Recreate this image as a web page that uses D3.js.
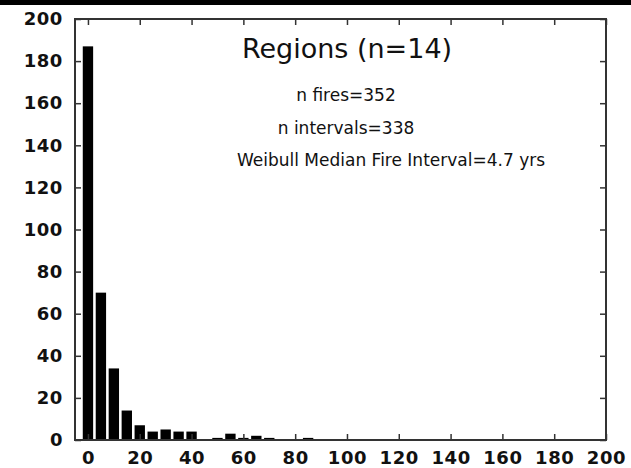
<!DOCTYPE html>
<html><head><meta charset="utf-8">
<script src="https://cdn.jsdelivr.net/npm/d3@7"></script>
<style>body{margin:0;background:#fff}svg{display:block}</style>
</head><body>
<svg id="c" width="631" height="468"></svg>
<script>
const binStarts = [0,5,10,15,20,25,30,35,40,45,50,55,60,65,70,75,80,85];
const counts    = [187,70,34,14,7,4,5,4,4,0,1,3,1,2,1,0,0,1];
const xTicks = [0,20,40,60,80,100,120,140,160,180,200];
const yTicks = [0,20,40,60,80,100,120,140,160,180,200];
const titleLines = ["Regions (n=14)","n fires=352","n intervals=338","Weibull Median Fire Interval=4.7 yrs"];

const svg = d3.select("#c");
const L=75, R=606, T=19, B=440;
const x = d3.scaleLinear().domain([-5,200]).range([L,R]);
const y = d3.scaleLinear().domain([0,200]).range([B,T]);
const font = "'DejaVu Sans', sans-serif";

svg.append("rect").attr("x",0).attr("y",0).attr("width",631).attr("height",5).attr("fill","#000");

// bars
svg.append("g").selectAll("rect").data(binStarts.map((b,i)=>({b,c:counts[i]})).filter(d=>d.c>0))
  .join("rect")
  .attr("x",d=>x(d.b-2))
  .attr("width",d=>x(d.b+2)-x(d.b-2))
  .attr("y",d=>y(d.c))
  .attr("height",d=>y(0)-y(d.c))
  .attr("fill","#000");

// axes with inward ticks
const axL = d3.axisLeft(y).tickValues(yTicks).tickSize(-6).tickPadding(12);
const axR = d3.axisRight(y).tickValues(yTicks).tickSize(-6).tickFormat("");
const axB = d3.axisBottom(x).tickValues(xTicks).tickSize(-6).tickPadding(11);
const axT = d3.axisTop(x).tickValues(xTicks).tickSize(-6).tickFormat("");
function style(g){
  g.selectAll("path").attr("stroke","#333").attr("stroke-width",2);
  g.selectAll("line").attr("stroke","#333").attr("stroke-width",1.5);
  g.selectAll("text").attr("font-family",font).attr("font-size",18).attr("font-weight","bold")
    .attr("letter-spacing",0.6).attr("fill","#111");
}
svg.append("g").attr("transform",`translate(${L},0)`).call(axL).call(style);
svg.append("g").attr("transform",`translate(${R},0)`).call(axR).call(style);
svg.append("g").attr("transform",`translate(0,${B})`).call(axB).call(style);
svg.append("g").attr("transform",`translate(0,${T})`).call(axT).call(style);
svg.selectAll(".domain").attr("d",null);
svg.append("rect").attr("x",L).attr("y",T).attr("width",R-L).attr("height",B-T)
  .attr("fill","none").attr("stroke","#333").attr("stroke-width",2);

// annotations
const pos = [[347,58,27],[346,101,17],[346,134,17],[391,166,17]];
svg.append("g").selectAll("text").data(titleLines).join("text")
  .attr("x",(d,i)=>pos[i][0]).attr("y",(d,i)=>pos[i][1])
  .attr("font-size",(d,i)=>pos[i][2])
  .attr("text-anchor","middle").attr("font-family",font).attr("fill","#111")
  .text(d=>d);
</script>
</body></html>
